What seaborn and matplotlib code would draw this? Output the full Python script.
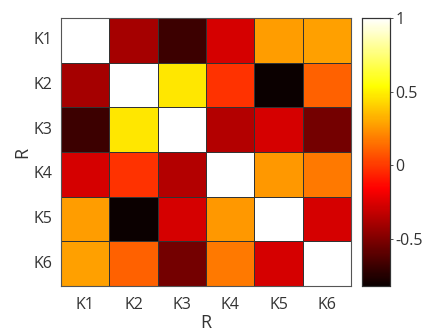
import numpy as np
import pandas as pd
import matplotlib
matplotlib.use("Agg")
import matplotlib.pyplot as plt
import seaborn as sns

labels = ["K1", "K2", "K3", "K4", "K5", "K6"]
row_K1 = [1.00, -0.40, -0.68, -0.27, 0.27, 0.28]
row_K2 = [-0.40, 1.00, 0.47, -0.02, -0.82, 0.11]
row_K3 = [-0.68, 0.47, 1.00, -0.36, -0.27, -0.53]
row_K4 = [-0.27, -0.02, -0.36, 1.00, 0.26, 0.17]
row_K5 = [0.27, -0.82, -0.27, 0.26, 1.00, -0.27]
row_K6 = [0.28, 0.11, -0.53, 0.17, -0.27, 1.00]
cbar_ticks = [-0.5, 0, 0.5, 1]
cbar_ticklabels = ["-0.5", "0", "0.5", "1"]

df = pd.DataFrame([row_K1, row_K2, row_K3, row_K4, row_K5, row_K6],
                  index=labels, columns=labels)

sns.set_style("white")
plt.rcParams['font.family'] = ['Open Sans', 'DejaVu Sans']

fig = plt.figure(figsize=(4.24, 3.34), dpi=100)
ax = fig.add_axes([61/424, 48/334, 290/424, 268/334])
cax = fig.add_axes([362/424, 48/334, 28/424, 268/334])

sns.heatmap(df, ax=ax, cbar_ax=cax, cmap="hot", vmin=-0.82, vmax=1.0,
            linewidths=0.6, linecolor="#333333", square=False,
            cbar_kws={"ticks": cbar_ticks})

ax.set_xlabel("R", fontsize=13, color="#333333", labelpad=1)
ax.set_ylabel("R", fontsize=13, color="#333333", labelpad=2)
ax.tick_params(axis="y", length=0, labelsize=11.5, colors="#333333", pad=6)
ax.tick_params(axis="x", length=0, labelsize=11.5, colors="#333333", pad=8)
ax.set_xticklabels(labels, rotation=0)
ax.set_yticklabels(labels, rotation=0)
for s in ax.spines.values():
    s.set_visible(True)
    s.set_color("#555555")
    s.set_linewidth(0.8)

cax.set_yticklabels(cbar_ticklabels)
cax.tick_params(labelsize=11.5, colors="#333333", length=2, width=0.6, pad=2)
for s in cax.spines.values():
    s.set_visible(True)
    s.set_color("#333333")
    s.set_linewidth(0.8)

fig.savefig("out.png", dpi=100)
